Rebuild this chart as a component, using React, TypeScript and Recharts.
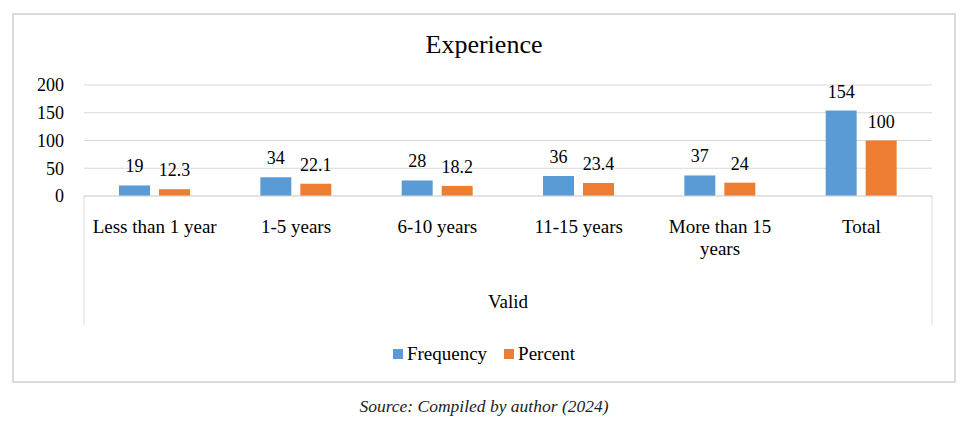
import { Bar, BarChart, CartesianGrid, LabelList, XAxis, YAxis } from 'recharts'

const categories = ['Less than 1 year', '1-5 years', '6-10 years', '11-15 years', 'More than 15 years', 'Total']
const frequency = [19, 34, 28, 36, 37, 154]
const percent = [12.3, 22.1, 18.2, 23.4, 24, 100]
const yTicks = [0, 50, 100, 150, 200]
const seriesNames = ['Frequency', 'Percent']
const seriesColors = ['#5B9BD5', '#ED7D31']

const data = categories.map((name, i) => ({ name, frequency: frequency[i], percent: percent[i] }))

const FONT = '"Liberation Serif", "Times New Roman", serif'
const GRID = '#d9d9d9'
const W = 952
const H = 374
const Y_AXIS_W = 60
const AXIS_H = 129
// recharts adds axis sizes on top of the margins
const MARGIN = { top: 77, right: 28, bottom: 57, left: 16 }
const PLOT_LEFT = MARGIN.left + Y_AXIS_W
const PLOT_RIGHT = W - MARGIN.right

const measureCtx = typeof document !== 'undefined' ? document.createElement('canvas').getContext('2d') : null

function wrapLabel(label: string, maxWidth: number) {
  if (!measureCtx) return [label]
  measureCtx.font = `19px ${FONT}`
  const lines: string[] = []
  let cur = ''
  for (const w of label.split(' ')) {
    const next = cur ? `${cur} ${w}` : w
    if (cur && measureCtx.measureText(next).width > maxWidth) {
      lines.push(cur)
      cur = w
    } else cur = next
  }
  if (cur) lines.push(cur)
  return lines
}

function CategoryTick(props: any) {
  const { x, y, payload, index } = props
  const lines = wrapLabel(String(payload.value), 128)
  return (
    <g>
      {index === 0 && (
        <>
          <line x1={PLOT_LEFT} x2={PLOT_LEFT} y1={y} y2={y + AXIS_H} stroke={GRID} />
          <line x1={PLOT_RIGHT} x2={PLOT_RIGHT} y1={y} y2={y + AXIS_H} stroke={GRID} />
        </>
      )}
      <text x={x} y={y + 37} textAnchor="middle" fill="#000" fontFamily={FONT} fontSize={19}>
        {lines.map((l, i) => (
          <tspan key={i} x={x} dy={i === 0 ? 0 : 22}>
            {l}
          </tspan>
        ))}
      </text>
    </g>
  )
}

export default function App() {
  return (
    <div style={{ position: 'relative', width: W, height: 418, fontFamily: FONT, color: '#000' }}>
      <div
        style={{
          position: 'absolute',
          left: 4,
          top: 5,
          width: 944,
          height: 370,
          border: '2px solid #dadada',
          boxSizing: 'border-box',
        }}
      />
      <div style={{ position: 'absolute', left: 4, top: 24, width: 944, textAlign: 'center', fontSize: 26, lineHeight: '26px' }}>
        Experience
      </div>
      <div style={{ position: 'absolute', left: 0, top: 0 }}>
        <BarChart width={W} height={H} data={data} margin={MARGIN} barGap={9}>
          <CartesianGrid vertical={false} stroke={GRID} />
          <XAxis
            dataKey="name"
            height={AXIS_H}
            interval={0}
            tickLine={false}
            tickSize={0}
            tickMargin={0}
            axisLine={{ stroke: GRID }}
            tick={<CategoryTick />}
            label={{ value: 'Valid', position: 'insideBottom', offset: 17, fill: '#000', style: { fontFamily: FONT, fontSize: 19 } }}
          />
          <YAxis
            domain={[0, 200]}
            ticks={yTicks}
            width={Y_AXIS_W}
            axisLine={false}
            tickLine={false}
            tickSize={0}
            tickMargin={20}
            tick={{ fill: '#000', fontSize: 18, fontFamily: FONT }}
          />
          <Bar dataKey="frequency" name={seriesNames[0]} fill={seriesColors[0]} barSize={31} isAnimationActive={false}>
            <LabelList dataKey="frequency" position="top" offset={13} fill="#000" fontFamily={FONT} fontSize={18} />
          </Bar>
          <Bar dataKey="percent" name={seriesNames[1]} fill={seriesColors[1]} barSize={31} isAnimationActive={false}>
            <LabelList dataKey="percent" position="top" offset={13} fill="#000" fontFamily={FONT} fontSize={18} />
          </Bar>
        </BarChart>
      </div>
      <div
        style={{
          position: 'absolute',
          left: 4,
          top: 337,
          width: 944,
          display: 'flex',
          justifyContent: 'center',
          alignItems: 'center',
          gap: 17,
          fontSize: 19,
          lineHeight: '18px',
        }}
      >
        {seriesNames.map((n, i) => (
          <div key={n} style={{ display: 'flex', alignItems: 'center' }}>
            <span style={{ width: 10, height: 10, background: seriesColors[i], marginRight: 4, display: 'inline-block' }} />
            <span>{n}</span>
          </div>
        ))}
      </div>
      <div
        style={{
          position: 'absolute',
          left: 4,
          top: 390,
          width: 944,
          textAlign: 'center',
          fontStyle: 'italic',
          fontSize: 17.5,
          lineHeight: '17px',
          color: '#222',
        }}
      >
        Source: Compiled by author (2024)
      </div>
    </div>
  )
}
